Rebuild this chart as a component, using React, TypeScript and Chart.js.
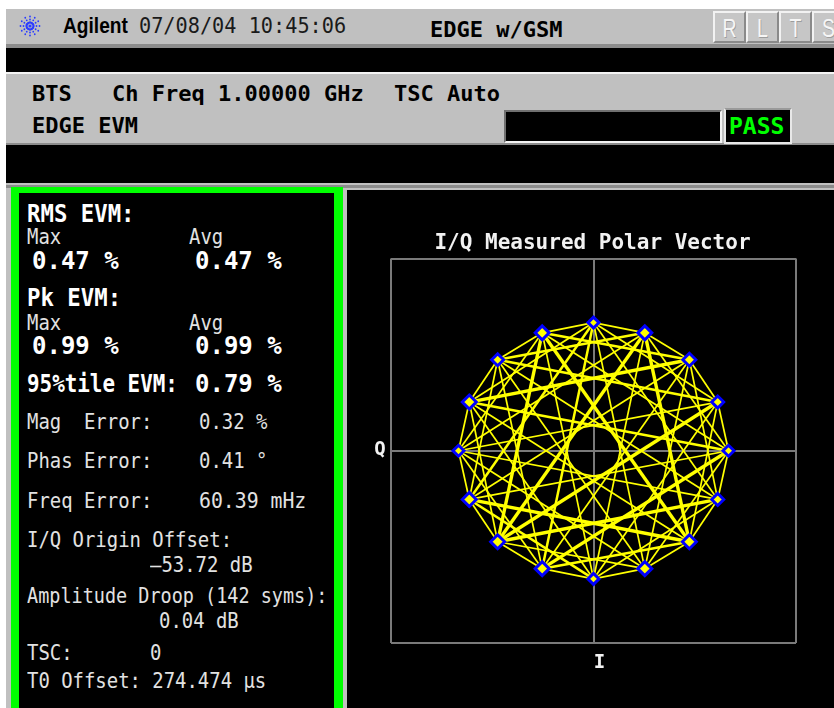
import React, { useEffect, useRef } from "react";
import { Chart, registerables } from "chart.js";

Chart.register(...registerables);

// ---- constellation data (I/Q of the 16 rotated 8-PSK symbol positions) ----
const symbolI = [1.0, 0.92, 0.71, 0.38, 0.0, -0.38, -0.71, -0.92, -1.0, -0.92, -0.71, -0.38, 0.0, 0.38, 0.71, 0.92];
const symbolQ = [0.0, 0.38, 0.71, 0.92, 1.0, 0.92, 0.71, 0.38, 0.0, -0.38, -0.71, -0.92, -1.0, -0.92, -0.71, -0.38];

// measured symbol-to-symbol transitions: [from symbol, to symbol, trace weight]
const transitions: [number, number, number][] = [
  [0, 1, 1], [0, 3, 1], [0, 5, 1], [0, 7, 2], [0, 9, 1], [0, 11, 3], [0, 13, 1], [0, 15, 1],
  [2, 1, 1], [2, 3, 1], [2, 5, 2], [2, 7, 3], [2, 9, 1], [2, 11, 1], [2, 13, 1], [2, 15, 1],
  [4, 1, 1], [4, 3, 1], [4, 5, 1], [4, 7, 1], [4, 9, 2], [4, 11, 2], [4, 13, 1], [4, 15, 1],
  [6, 1, 2], [6, 3, 2], [6, 5, 1], [6, 7, 1], [6, 9, 1], [6, 11, 1], [6, 13, 1], [6, 15, 1],
  [8, 1, 1], [8, 3, 1], [8, 5, 1], [8, 7, 1], [8, 9, 1], [8, 11, 1], [8, 13, 1], [8, 15, 1],
  [10, 1, 3], [10, 3, 3], [10, 5, 3], [10, 7, 1], [10, 9, 1], [10, 11, 1], [10, 13, 1], [10, 15, 3],
  [12, 1, 1], [12, 3, 1], [12, 5, 1], [12, 7, 1], [12, 9, 2], [12, 11, 1], [12, 13, 1], [12, 15, 1],
  [14, 1, 1], [14, 3, 3], [14, 5, 3], [14, 7, 1], [14, 9, 3], [14, 11, 2], [14, 13, 1], [14, 15, 1],
];

const axisMin = -1.5;
const axisMax = 1.5;
const axisTicks = [-1.5, 0, 1.5];

const chartTitle = "I/Q Measured Polar Vector";
const xAxisLabel = "I";
const yAxisLabel = "Q";

// ---- measurement readouts ----
const rmsEvm = { max: "0.47 %", avg: "0.47 %" };
const pkEvm = { max: "0.99 %", avg: "0.99 %" };
const pct95Evm = "0.79 %";
const magError = "0.32 %";
const phasError = "0.41 °";
const freqError = "60.39 mHz";
const iqOriginOffset = "–53.72 dB";
const amplitudeDroop = "0.04 dB";
const tscValue = "0";
const t0Offset = "274.474 μs";

const MONO = "'DejaVu Sans Mono', monospace";
const SANS = "'Liberation Sans', Arial, sans-serif";

// marker sizes (style only)
const markerRadius = [5.5, 6, 6.5, 7, 5.5, 7, 6, 7, 5.5, 7, 7, 7, 5.5, 7, 7, 6];

type TxtProps = {
  t: string;
  x: number;
  cap: number;
  fs: number;
  bold?: boolean;
  sx?: number;
  color?: string;
  family?: string;
  capRatio?: number;
};

function Txt({ t, x, cap, fs, bold, sx = 1, color = "#000", family = MONO, capRatio = 0.117 }: TxtProps) {
  return (
    <div
      style={{
        position: "absolute",
        left: x,
        top: cap - capRatio * fs,
        fontFamily: family,
        fontSize: fs,
        lineHeight: fs + "px",
        fontWeight: bold ? 700 : 400,
        color,
        whiteSpace: "pre",
        transform: `scaleX(${sx})`,
        transformOrigin: "0 0",
      }}
    >
      {t}
    </div>
  );
}

function Box({ x, y, w, h, bg, style }: { x: number; y: number; w: number; h: number; bg: string; style?: any }) {
  return <div style={{ position: "absolute", left: x, top: y, width: w, height: h, background: bg, boxSizing: "border-box", ...style }} />;
}

function Logo() {
  const dots: any[] = [];
  const angles = [0, 30, 60, 90, 120, 150, 180, 210, 240, 270, 300, 330];
  angles.forEach((a, i) => {
    const rad = (a * Math.PI) / 180;
    [3.5, 6.5, 9.5].forEach((r, j) => {
      dots.push(
        <circle key={i + "-" + j} cx={12 + Math.cos(rad) * r} cy={11 + Math.sin(rad) * r} r={j === 0 ? 1.2 : 0.9} fill="#2b3cff" />
      );
    });
  });
  return (
    <svg style={{ position: "absolute", left: 18, top: 15 }} width={24} height={22}>
      <circle cx={12} cy={11} r={1.6} fill="#2b3cff" />
      {dots}
    </svg>
  );
}

function Btn({ x, label }: { x: number; label: string }) {
  return (
    <div
      style={{
        position: "absolute",
        left: x,
        top: 11,
        width: 33,
        height: 32,
        background: "#c6c6c6",
        boxSizing: "border-box",
        borderTop: "2px solid #f2f2f2",
        borderLeft: "2px solid #f2f2f2",
        borderBottom: "2px solid #8a8a8a",
        borderRight: "2px solid #8a8a8a",
      }}
    >
      <div
        style={{
          position: "absolute",
          left: 0,
          width: 29,
          top: 2,
          textAlign: "center",
          fontFamily: SANS,
          fontSize: 26,
          lineHeight: "26px",
          color: "#f6f6f6",
          textShadow: "1px 1px 0 #9c9c9c",
          transform: "scaleX(0.75)",
          transformOrigin: "50% 0",
        }}
      >
        {label}
      </div>
    </div>
  );
}

function PolarChart() {
  const ref = useRef<HTMLCanvasElement | null>(null);
  useEffect(() => {
    const canvas = ref.current;
    if (!canvas) return;
    const widthFor = (w: number) => (w === 3 ? 3.4 : w === 2 ? 2.5 : 1.7);
    const edgeSets = transitions.map(([a, b, w]) => ({
      type: "scatter" as const,
      data: [
        { x: symbolI[a], y: symbolQ[a] },
        { x: symbolI[b], y: symbolQ[b] },
      ],
      showLine: true,
      borderColor: "#ffff00",
      borderWidth: widthFor(w),
      pointRadius: 0,
      order: 2,
    }));
    const markerSet = {
      type: "scatter" as const,
      data: symbolI.map((v, i) => ({ x: v, y: symbolQ[i] })),
      showLine: false,
      pointStyle: "rectRot" as const,
      pointRadius: markerRadius,
      pointBorderWidth: 3,
      pointBorderColor: "#0000ff",
      pointBackgroundColor: "#ffff00",
      order: 0,
    };
    const labels = {
      id: "polarLabels",
      afterDraw(c: any) {
        const { ctx, chartArea } = c;
        const cx = (chartArea.left + chartArea.right) / 2;
        const cy = (chartArea.top + chartArea.bottom) / 2;
        ctx.save();
        ctx.fillStyle = "#f2f2f2";
        ctx.textAlign = "center";
        ctx.textBaseline = "alphabetic";
        ctx.font = "bold 21px 'DejaVu Sans Mono'";
        ctx.fillText(chartTitle, cx - 1, chartArea.top - 9.5);
        ctx.font = "bold 19px 'DejaVu Sans Mono'";
        ctx.fillText(xAxisLabel, cx + 6, chartArea.bottom + 25);
        ctx.textBaseline = "middle";
        ctx.fillText(yAxisLabel, chartArea.left - 11, cy - 1);
        ctx.restore();
      },
    };
    const axis = {
      type: "linear" as const,
      min: axisMin,
      max: axisMax,
      afterBuildTicks: (s: any) => {
        s.ticks = axisTicks.map((v) => ({ value: v }));
      },
      ticks: { display: false },
      grid: { color: "#7a7a7a", lineWidth: 2, drawTicks: false, tickLength: 0 },
      border: { display: false },
    };
    const chart = new Chart(canvas, {
      type: "scatter",
      data: { datasets: [markerSet, ...edgeSets] as any },
      options: {
        animation: false,
        responsive: false,
        maintainAspectRatio: false,
        events: [],
        layout: { padding: { left: 44, top: 68.5, right: 38, bottom: 65 } },
        plugins: { legend: { display: false }, tooltip: { enabled: false }, title: { display: false } },
        scales: { x: axis, y: axis } as any,
      },
      plugins: [labels],
    });
    return () => chart.destroy();
  }, []);
  return (
    <canvas
      ref={ref}
      width={487}
      height={518}
      style={{ position: "absolute", left: 347, top: 190, width: 487, height: 518, background: "#000" }}
    />
  );
}

export default function App() {
  const W = "#ffffff";
  const G = "#e2e2e2";
  return (
    <div style={{ position: "fixed", left: 0, top: 0, width: 834, height: 708, overflow: "hidden", background: "#fff" }}>
      {/* instrument frame */}
      <Box x={6} y={9} w={828} h={699} bg="#c0c0c0" />
      <Box x={6} y={44} w={828} h={4} bg="#8c8c8c" />
      <Box x={6} y={48} w={828} h={24} bg="#000" />
      <Box x={6} y={72} w={828} h={2} bg="#f4f4f4" />
      <Box x={6} y={143} w={828} h={2} bg="#8c8c8c" />
      <Box x={6} y={145} w={828} h={38} bg="#000" />
      <Box x={6} y={185} w={828} h={3} bg="#8c8c8c" />

      {/* title bar */}
      <Logo />
      <Txt t="Agilent" x={63} cap={18} fs={22} bold sx={0.87} family={SANS} capRatio={0.13} />
      <Txt t="07/08/04 10:45:06" x={139} cap={18} fs={22} sx={0.92} color="#1a1a1a" />
      <Txt t="EDGE w/GSM" x={430} cap={22} fs={22} bold />
      <Btn x={713} label="R" />
      <Btn x={746} label="L" />
      <Btn x={779} label="T" />
      <Btn x={812} label="S" />

      {/* settings */}
      <Txt t="BTS" x={32} cap={86} fs={22} bold />
      <Txt t="Ch Freq 1.00000 GHz" x={112} cap={86} fs={22} bold />
      <Txt t="TSC Auto" x={394} cap={86} fs={22} bold />
      <Txt t="EDGE EVM" x={32} cap={118} fs={22} bold />
      <Box x={504} y={110} w={218} h={33} bg="#000" style={{ borderTop: "2px solid #707070", borderLeft: "2px solid #707070", borderBottom: "2px solid #f4f4f4", borderRight: "2px solid #f4f4f4" }} />
      <Box x={724} y={108} w={68} h={36} bg="#000" style={{ border: "2px solid #e8e8e8", borderTopColor: "#9a9a9a" }} />
      <Txt t="PASS" x={729} cap={118} fs={23} bold color="#00ff00" />

      {/* results panel */}
      <Box x={11} y={187} w={332} h={521} bg="#00ff00" />
      <Box x={19} y={193} w={315} h={515} bg="#000" />
      <Txt t="RMS EVM:" x={27} cap={205} fs={24} bold sx={0.93} color={W} />
      <Txt t="Max" x={27} cap={229} fs={21} sx={0.9} color={G} />
      <Txt t="Avg" x={189} cap={229} fs={21} sx={0.9} color={G} />
      <Txt t={rmsEvm.max} x={32} cap={252} fs={24} bold color={W} />
      <Txt t={rmsEvm.avg} x={195} cap={252} fs={24} bold color={W} />
      <Txt t="Pk EVM:" x={27} cap={289} fs={24} bold sx={0.93} color={W} />
      <Txt t="Max" x={27} cap={315} fs={21} sx={0.9} color={G} />
      <Txt t="Avg" x={189} cap={315} fs={21} sx={0.9} color={G} />
      <Txt t={pkEvm.max} x={32} cap={337} fs={24} bold color={W} />
      <Txt t={pkEvm.avg} x={195} cap={337} fs={24} bold color={W} />
      <Txt t="95%tile EVM:" x={27} cap={375} fs={24} bold sx={0.87} color={W} />
      <Txt t={pct95Evm} x={195} cap={375} fs={24} bold color={W} />

      <Txt t="Mag  Error:" x={27} cap={414} fs={22} sx={0.86} color={G} />
      <Txt t={magError} x={199} cap={414} fs={22} sx={0.86} color={G} />
      <Txt t="Phas Error:" x={27} cap={453} fs={22} sx={0.86} color={G} />
      <Txt t={phasError} x={199} cap={453} fs={22} sx={0.86} color={G} />
      <Txt t="Freq Error:" x={27} cap={493} fs={22} sx={0.86} color={G} />
      <Txt t={freqError} x={199} cap={493} fs={22} sx={0.9} color={G} />
      <Txt t="I/Q Origin Offset:" x={27} cap={532} fs={22} sx={0.86} color={G} />
      <Txt t={iqOriginOffset} x={150} cap={557} fs={22} sx={0.86} color={G} />
      <Txt t="Amplitude Droop (142 syms):" x={27} cap={588} fs={22} sx={0.84} color={G} />
      <Txt t={amplitudeDroop} x={159} cap={613} fs={22} sx={0.86} color={G} />
      <Txt t="TSC:" x={27} cap={645} fs={22} sx={0.86} color={G} />
      <Txt t={tscValue} x={150} cap={645} fs={22} sx={0.86} color={G} />
      <Txt t={"T0 Offset: " + t0Offset} x={27} cap={673} fs={22} sx={0.86} color={G} />

      {/* graph */}
      <PolarChart />
    </div>
  );
}
